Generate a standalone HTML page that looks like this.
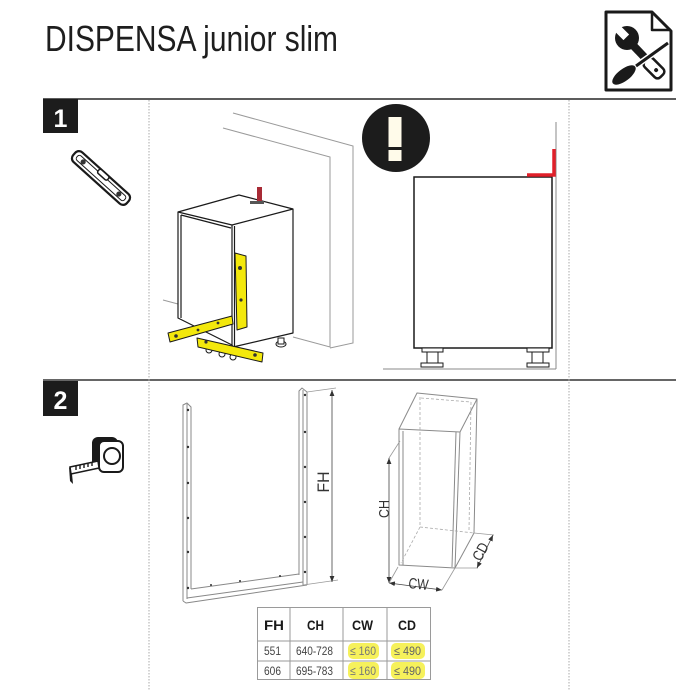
<!DOCTYPE html>
<html><head><meta charset="utf-8"><style>
html,body{margin:0;padding:0;background:#fff;}
svg{display:block;}
text{font-family:"Liberation Sans",sans-serif;}
</style></head><body>
<svg width="700" height="690" viewBox="0 0 700 690" xmlns="http://www.w3.org/2000/svg">
<defs>
<marker id="ar" viewBox="0 0 10 10" refX="10" refY="5" markerWidth="6" markerHeight="6" orient="auto-start-reverse" markerUnits="userSpaceOnUse">
<path d="M0,1 L10,5 L0,9 Z" fill="#333"/>
</marker>
</defs>
<rect width="700" height="690" fill="#fff"/>

<!-- Title -->
<text x="45" y="51" font-size="36" fill="#1e1e1e" textLength="293" lengthAdjust="spacingAndGlyphs">DISPENSA junior slim</text>

<!-- tools doc icon -->
<path d="M606,12 H652 L671,31 V90 H606 Z" fill="#fff" stroke="#1a1a1a" stroke-width="3" stroke-linejoin="round"/>
<path d="M652,12 V30 H671" fill="none" stroke="#1a1a1a" stroke-width="2.5" stroke-linejoin="round"/>
<!-- wrench -->
<circle cx="627" cy="38" r="12" fill="#1a1a1a"/>
<g transform="rotate(-45 627 38)"><rect x="623" y="22" width="8" height="15" fill="#fff"/></g>
<line x1="628" y1="40" x2="648" y2="61" stroke="#1a1a1a" stroke-width="8"/>
<g transform="rotate(45 654 68)"><rect x="643" y="62" width="22" height="12" rx="4" fill="#fff" stroke="#1a1a1a" stroke-width="2.5"/><circle cx="657" cy="68" r="2" fill="#1a1a1a"/></g>
<!-- screwdriver -->
<line x1="668" y1="43" x2="636" y2="66" stroke="#fff" stroke-width="6"/>
<line x1="668" y1="43" x2="636" y2="66" stroke="#1a1a1a" stroke-width="3"/>
<g transform="rotate(-37 624 75)"><ellipse cx="624" cy="75" rx="14" ry="6" fill="#1a1a1a"/></g>

<!-- Separators -->
<line x1="43" y1="99" x2="676" y2="99" stroke="#444" stroke-width="1.8"/>
<line x1="43" y1="380" x2="676" y2="380" stroke="#333" stroke-width="1.5"/>
<line x1="149" y1="100" x2="149" y2="690" stroke="#aaa" stroke-width="1" stroke-dasharray="1.5,1.5"/>
<line x1="569" y1="100" x2="569" y2="690" stroke="#aaa" stroke-width="1" stroke-dasharray="1.5,1.5"/>

<!-- step boxes -->
<rect x="43" y="99" width="35" height="34" fill="#1c1c1c"/>
<text x="60.5" y="127" font-size="25" font-weight="bold" fill="#fff" text-anchor="middle">1</text>
<rect x="43" y="381" width="35" height="35" fill="#1c1c1c"/>
<text x="60.5" y="409" font-size="25" font-weight="bold" fill="#fff" text-anchor="middle">2</text>

<!-- level icon -->
<g transform="translate(101,178) rotate(42)">
<rect x="-36" y="-6.5" width="72" height="13" rx="5" fill="#fff" stroke="#1a1a1a" stroke-width="2.2"/>
<rect x="-32" y="-3" width="64" height="6" rx="2.5" fill="none" stroke="#1a1a1a" stroke-width="1"/>
<circle cx="-24" cy="0" r="2.6" fill="#333"/>
<circle cx="24" cy="0" r="2.6" fill="#333"/>
<rect x="-7" y="-6.5" width="13" height="5" rx="2" fill="#fff" stroke="#1a1a1a" stroke-width="1.5"/>
</g>

<!-- tape measure icon -->
<rect x="92" y="437" width="26" height="31" rx="6" fill="#1a1a1a"/>
<rect x="99" y="441" width="24" height="31" rx="5" fill="#fff" stroke="#1a1a1a" stroke-width="2"/>
<circle cx="112" cy="456" r="8" fill="#fff" stroke="#1a1a1a" stroke-width="2"/>
<path d="M70,467 L98,461 L99,468 L71,474 Z" fill="#fff" stroke="#1a1a1a" stroke-width="1.5"/>
<path d="M76,466 v4 M80,465 v4 M84,464 v4 M88,463 v4 M92,462 v4" stroke="#1a1a1a" stroke-width="1.4"/>
<path d="M69,467 L72,474 L73,484 L70,481 Z" fill="#1a1a1a"/>

<!-- Scene 1 left: walls -->
<g stroke="#9a9a9a" stroke-width="1" fill="none">
<polyline points="233,113 353,146 353,343 330,348"/>
<polyline points="223,128 330,157 330,347 293,337"/>
<line x1="163" y1="300" x2="178" y2="304"/>
</g>
<!-- cabinet -->
<g stroke="#1a1a1a" stroke-width="1.2" fill="#fff" stroke-linejoin="round">
<path d="M178,212 L239,195 L293,209 L293,333 L233,347 L232,345 L178,318 Z"/>
<path d="M178,212 L232,225 L293,209" fill="none"/>
<path d="M181,215 L231,228" fill="none"/>
<line x1="181" y1="215" x2="181" y2="318"/>
<line x1="232" y1="225" x2="232" y2="346"/>
<line x1="234.5" y1="226" x2="234.5" y2="346"/>
</g>
<!-- red bracket -->
<rect x="257" y="187" width="5" height="14" fill="#a82a35"/>
<rect x="250" y="201" width="14" height="3" fill="#555"/>
<!-- feet -->
<ellipse cx="281" cy="344" rx="5" ry="3" fill="#fff" stroke="#1a1a1a"/>
<rect x="278" y="338" width="6" height="6" fill="#fff" stroke="#1a1a1a"/>
<circle cx="209" cy="350" r="3" fill="#fff" stroke="#1a1a1a"/>
<circle cx="222" cy="354" r="3" fill="#fff" stroke="#1a1a1a"/>
<circle cx="233" cy="357" r="3" fill="#fff" stroke="#1a1a1a"/>
<!-- yellow levels -->
<g fill="#f3e80c" stroke="#1a1a1a" stroke-width="1" stroke-linejoin="round">
<polygon points="235,253 246,256 247,327 237,330"/>
<polygon points="168,333 232,316 233,324 170,342"/>
<polygon points="197,338 263,353 262,362 198,347"/>
</g>
<circle cx="240" cy="268" r="2" fill="#333"/>
<circle cx="241" cy="300" r="1.6" fill="#333"/>
<circle cx="176" cy="336" r="1.8" fill="#333"/>
<circle cx="198" cy="330" r="1.4" fill="#333"/>
<circle cx="218" cy="323" r="1.4" fill="#333"/>
<circle cx="206" cy="342" r="1.6" fill="#333"/>
<circle cx="255" cy="355" r="1.8" fill="#333"/>

<!-- Scene 1 right -->
<line x1="556" y1="122" x2="556" y2="369" stroke="#888" stroke-width="1"/>
<line x1="383" y1="369" x2="556" y2="369" stroke="#888" stroke-width="1"/>
<circle cx="396" cy="138" r="34" fill="#1c1c1c"/>
<rect x="388.5" y="117" width="13" height="30" fill="#fffbea"/>
<rect x="388.5" y="150" width="13" height="11" fill="#fffbea"/>
<rect x="414" y="177" width="138" height="171" fill="#fff" stroke="#1a1a1a" stroke-width="1.5"/>
<g fill="#fff" stroke="#1a1a1a" stroke-width="1">
<rect x="422" y="348" width="21" height="4"/>
<rect x="427" y="352" width="11" height="11"/>
<rect x="421" y="363" width="22" height="4"/>
<rect x="527" y="348" width="22" height="4"/>
<rect x="532" y="352" width="11" height="11"/>
<rect x="527" y="363" width="22" height="4"/>
</g>
<polyline points="527,175 554,175 554,149" fill="none" stroke="#e0202a" stroke-width="3.5"/>

<!-- Step 2: frame -->
<g stroke="#888" stroke-width="1" fill="none" stroke-linejoin="round">
<polyline points="183,601 183,405 187,403 191,407 191,589"/>
<line x1="187" y1="404" x2="187" y2="599"/>
<polyline points="299,575 299,391 302,388 307,392 307,585"/>
<line x1="303" y1="390" x2="303" y2="585"/>
<polyline points="191,589 299,574"/>
<polyline points="183,601 186,603 307,585"/>
<line x1="187" y1="598" x2="303" y2="582"/>
</g>
<g fill="#333">
<circle cx="188" cy="410" r="1.2"/><circle cx="188" cy="447" r="1.2"/><circle cx="188" cy="483" r="1.2"/><circle cx="188" cy="518" r="1.2"/><circle cx="188" cy="552" r="1.2"/><circle cx="188" cy="588" r="1.2"/>
<circle cx="305" cy="395" r="1.2"/><circle cx="305" cy="432" r="1.2"/><circle cx="305" cy="467" r="1.2"/><circle cx="305" cy="502" r="1.2"/><circle cx="305" cy="537" r="1.2"/><circle cx="305" cy="572" r="1.2"/>
<circle cx="211" cy="585" r="1"/><circle cx="240" cy="581" r="1"/><circle cx="280" cy="576" r="1"/>
</g>
<line x1="307" y1="392" x2="336" y2="388" stroke="#999" stroke-width="0.8"/>
<line x1="303" y1="585" x2="338" y2="580" stroke="#999" stroke-width="0.8"/>
<line x1="332" y1="390" x2="332" y2="582" stroke="#444" stroke-width="0.8" marker-start="url(#ar)" marker-end="url(#ar)"/>
<text transform="translate(329,482) rotate(-90)" font-size="17" fill="#333" text-anchor="middle" textLength="21" lengthAdjust="spacingAndGlyphs">FH</text>

<!-- Step 2: box -->
<g stroke="#8a8a8a" stroke-width="1" fill="none" stroke-linejoin="round">
<polygon points="399,429 460,432 455,568 399,565"/>
<line x1="403" y1="431" x2="403" y2="565"/>
<polyline points="399,429 417,393 477,399 460,432"/>
<polyline points="477,399 474,533 455,568"/>
<line x1="456" y1="432" x2="452" y2="567"/>
</g>
<g stroke="#aaa" stroke-width="0.8" fill="none" stroke-dasharray="3,2">
<line x1="420" y1="397" x2="420" y2="527"/>
<line x1="420" y1="527" x2="474" y2="533"/>
<line x1="420" y1="527" x2="401" y2="563"/>
<line x1="421" y1="398" x2="471" y2="402"/>
<line x1="471" y1="402" x2="469" y2="530"/>
</g>
<line x1="389" y1="458" x2="400" y2="441" stroke="#999" stroke-width="0.8"/>
<line x1="389" y1="458" x2="389" y2="583" stroke="#444" stroke-width="0.8" marker-start="url(#ar)" marker-end="url(#ar)"/>
<line x1="389" y1="583" x2="398" y2="567" stroke="#999" stroke-width="0.8"/>
<line x1="389" y1="583" x2="442" y2="590" stroke="#444" stroke-width="0.8" marker-start="url(#ar)" marker-end="url(#ar)"/>
<line x1="442" y1="590" x2="455" y2="568" stroke="#999" stroke-width="0.8"/>
<line x1="455" y1="568" x2="478" y2="568" stroke="#999" stroke-width="0.8"/>
<line x1="474" y1="533" x2="494" y2="535" stroke="#999" stroke-width="0.8"/>
<line x1="477" y1="568" x2="493" y2="535" stroke="#444" stroke-width="0.8" marker-start="url(#ar)" marker-end="url(#ar)"/>
<text transform="translate(389,509) rotate(-90)" font-size="15" fill="#333" text-anchor="middle" textLength="18" lengthAdjust="spacingAndGlyphs">CH</text>
<text transform="translate(418,589) rotate(6)" font-size="15" fill="#333" text-anchor="middle" textLength="20" lengthAdjust="spacingAndGlyphs">CW</text>
<text transform="translate(485,554) rotate(-62)" font-size="15" fill="#333" text-anchor="middle" textLength="18" lengthAdjust="spacingAndGlyphs">CD</text>

<!-- Table -->
<g fill="#f6f04a" opacity="0.9">
<rect x="348" y="643" width="31" height="16" rx="5"/>
<rect x="391" y="643" width="34" height="16" rx="5"/>
<rect x="348" y="662" width="31" height="17" rx="5"/>
<rect x="391" y="662" width="34" height="17" rx="5"/>
</g>
<g stroke="#9a9a9a" stroke-width="1" fill="none">
<rect x="257.5" y="607.5" width="173" height="72"/>
<line x1="257" y1="641" x2="431" y2="641"/>
<line x1="257" y1="661" x2="431" y2="661"/>
<line x1="290" y1="607" x2="290" y2="680"/>
<line x1="343" y1="607" x2="343" y2="680"/>
<line x1="387" y1="607" x2="387" y2="680"/>
</g>
<g font-size="14" font-weight="bold" fill="#1a1a1a">
<text x="264" y="630" textLength="20" lengthAdjust="spacingAndGlyphs">FH</text>
<text x="307" y="630" textLength="17" lengthAdjust="spacingAndGlyphs">CH</text>
<text x="352" y="630" textLength="21" lengthAdjust="spacingAndGlyphs">CW</text>
<text x="398" y="630" textLength="18" lengthAdjust="spacingAndGlyphs">CD</text>
</g>
<g font-size="12" fill="#444">
<text x="264" y="655" textLength="17" lengthAdjust="spacingAndGlyphs">551</text>
<text x="296" y="655" textLength="37" lengthAdjust="spacingAndGlyphs">640-728</text>
<text x="350" y="655" textLength="26" lengthAdjust="spacingAndGlyphs" fill="#777">≤ 160</text>
<text x="394" y="655" textLength="27" lengthAdjust="spacingAndGlyphs" fill="#666">≤ 490</text>
<text x="264" y="675" textLength="17" lengthAdjust="spacingAndGlyphs">606</text>
<text x="296" y="675" textLength="37" lengthAdjust="spacingAndGlyphs">695-783</text>
<text x="350" y="675" textLength="26" lengthAdjust="spacingAndGlyphs" fill="#777">≤ 160</text>
<text x="394" y="675" textLength="27" lengthAdjust="spacingAndGlyphs" fill="#666">≤ 490</text>
</g>
</svg>
</body></html>
